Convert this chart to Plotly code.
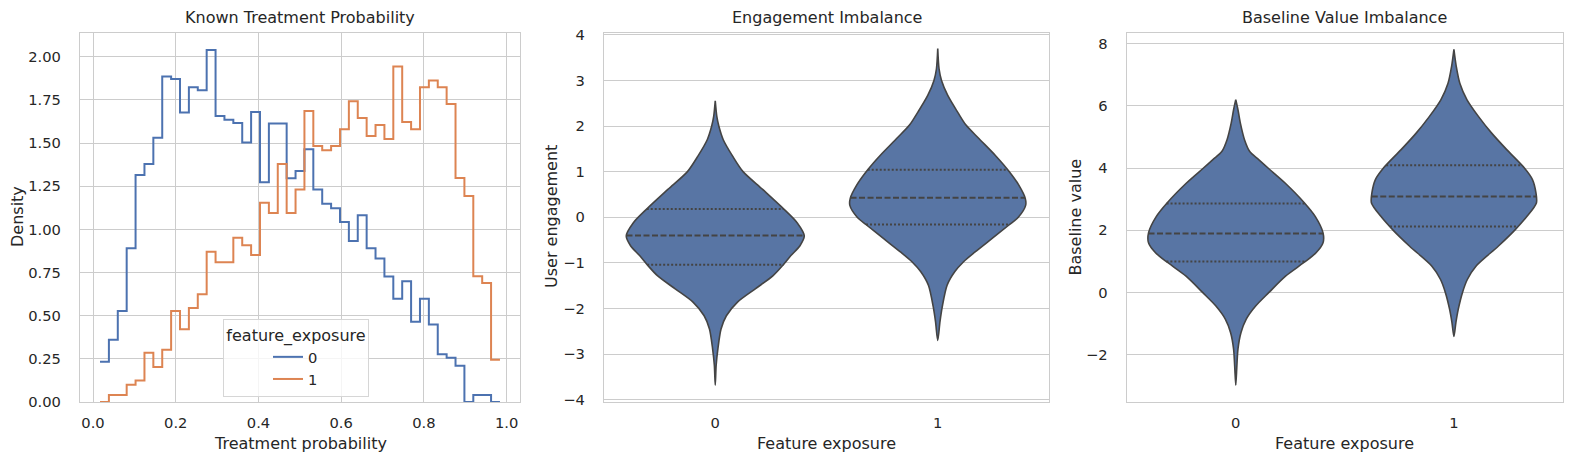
import numpy as np
import plotly.graph_objects as go

# ---- panel 1: step histogram of treatment probability (density) ----
bin_start = 0.0169
bin_width = 0.02149
density_0 = [0.233, 0.361, 0.528, 0.891, 1.315, 1.379, 1.531, 1.886, 1.871, 1.678,
             1.824, 1.807, 2.039, 1.657, 1.635, 1.616, 1.504, 1.680, 1.273, 1.614,
             1.614, 1.296, 1.338, 1.464, 1.232, 1.149, 1.122, 1.043, 0.933, 1.082,
             0.891, 0.831, 0.727, 0.598, 0.700, 0.465, 0.598, 0.449, 0.276, 0.257,
             0.210, 0.0, 0.040, 0.040, 0.0]
density_1 = [0.0, 0.040, 0.040, 0.100, 0.125, 0.285, 0.203, 0.303, 0.528, 0.422,
             0.544, 0.625, 0.870, 0.810, 0.810, 0.951, 0.908, 0.852, 1.155, 1.095,
             1.379, 1.095, 1.232, 1.686, 1.483, 1.458, 1.483, 1.581, 1.743, 1.645,
             1.541, 1.605, 1.524, 1.944, 1.622, 1.581, 1.824, 1.863, 1.824, 1.726,
             1.298, 1.194, 0.729, 0.689, 0.245]
hist_groups = ["0", "1"]

# ---- panels 2 & 3: violin outlines (value, half width) ----
eng0_val = [2.55, 2.21, 2.00, 1.70, 1.34, 1.00, 0.61, 0.19, -0.12, -0.41, -0.63, -0.84,
            -1.04, -1.28, -1.57, -1.86, -2.16, -2.45, -2.88, -3.25, -3.68]
eng0_hw = [0.0, 0.007, 0.016, 0.036, 0.078, 0.125, 0.213, 0.306, 0.368, 0.400, 0.380, 0.340,
           0.306, 0.260, 0.180, 0.100, 0.050, 0.026, 0.012, 0.004, 0.0]
eng1_val = [3.70, 3.25, 3.00, 2.67, 2.30, 2.02, 1.72, 1.35, 1.01, 0.70, 0.42, 0.26, 0.00,
            -0.17, -0.47, -0.76, -0.98, -1.19, -1.49, -1.97, -2.29, -2.70]
eng1_hw = [0.0, 0.006, 0.017, 0.045, 0.090, 0.127, 0.186, 0.260, 0.320, 0.365, 0.393, 0.395,
           0.362, 0.320, 0.243, 0.168, 0.115, 0.077, 0.042, 0.020, 0.010, 0.0]
base0_val = [6.19, 5.87, 5.44, 4.91, 4.53, 4.27, 4.00, 3.52, 2.88, 2.45, 1.92, 1.60, 1.28,
             0.96, 0.53, 0.00, -0.43, -0.85, -1.28, -1.81, -2.35, -2.97]
base0_hw = [0.0, 0.010, 0.021, 0.040, 0.064, 0.105, 0.148, 0.226, 0.315, 0.364, 0.400, 0.400,
            0.368, 0.311, 0.228, 0.151, 0.091, 0.048, 0.024, 0.010, 0.005, 0.0]
base1_val = [7.81, 7.25, 6.72, 6.19, 5.65, 5.12, 4.59, 4.00, 3.63, 3.20, 2.88, 2.45, 2.00,
             1.49, 0.85, 0.43, 0.00, -0.53, -0.96, -1.41]
base1_hw = [0.0, 0.011, 0.027, 0.060, 0.113, 0.173, 0.242, 0.323, 0.360, 0.376, 0.378, 0.335,
            0.278, 0.203, 0.101, 0.062, 0.039, 0.020, 0.009, 0.0]

# quartiles (q1, median, q3)
eng0_quart = [-1.04, -0.40, 0.18]
eng1_quart = [-0.16, 0.43, 1.04]
base0_quart = [1.00, 1.90, 2.86]
base1_quart = [2.12, 3.09, 4.09]

exposure_labels = ["0", "1"]

# window is 1583x464; the page body keeps an 8px margin all round,
# so the figure is sized to fit inside it without overflowing
WIN_W, WIN_H = 1583, 464
OFF = 8
W, H = WIN_W - 2 * OFF, WIN_H - 2 * OFF
TXT = "#262626"
GRID = "#cccccc"
FONT = "DejaVu Sans"
hist_colors = ["#4c72b0", "#dd8452"]
violin_fill = "#5875a4"
violin_line = "#444444"

fig = go.Figure()

# histogram steps
edges = bin_start + bin_width * np.arange(len(density_0) + 1)
for grp, dens, col in zip(hist_groups, [density_0, density_1], hist_colors):
    fig.add_trace(go.Scatter(
        x=edges, y=list(dens) + [dens[-1]], mode="lines", name=grp,
        line=dict(color=col, width=2, shape="hv"),
        xaxis="x", yaxis="y", showlegend=True))


def add_violin(pos, vals, hws, quart, xa, ya):
    vals = np.array(vals)
    hws = np.array(hws)
    # right side bottom->top, then left side top->bottom
    xs = np.concatenate([pos + hws[::-1], pos - hws])
    ys = np.concatenate([vals[::-1], vals])
    fig.add_trace(go.Scatter(
        x=xs, y=ys, mode="lines", fill="toself", fillcolor=violin_fill,
        line=dict(color=violin_line, width=1.6, shape="spline", smoothing=0.8),
        xaxis=xa, yaxis=ya, showlegend=False, hoverinfo="skip"))
    for i, q in enumerate(quart):
        w = np.interp(q, vals[::-1], hws[::-1])
        fig.add_trace(go.Scatter(
            x=[pos - w, pos + w], y=[q, q], mode="lines",
            line=dict(color=violin_line, width=2,
                      dash="6px,2.5px" if i == 1 else "2px,2px"),
            xaxis=xa, yaxis=ya, showlegend=False, hoverinfo="skip"))


add_violin(0, eng0_val, eng0_hw, eng0_quart, "x2", "y2")
add_violin(1, eng1_val, eng1_hw, eng1_quart, "x2", "y2")
add_violin(0, base0_val, base0_hw, base0_quart, "x3", "y3")
add_violin(1, base1_val, base1_hw, base1_quart, "x3", "y3")


# window pixel -> paper fraction
def px_x(p):
    return (p - OFF) / W


def px_y(p):
    return (H - (p - OFF)) / H


ydom = [px_y(402), px_y(32.5)]
panels = [(80, 520), (604, 1049), (1126.7, 1563)]

axis_common = dict(
    showline=True, mirror=True, linecolor=GRID, linewidth=1.25,
    showgrid=True, gridcolor=GRID, gridwidth=1, zeroline=False,
    ticks="", automargin=False,
    tickfont=dict(family=FONT, size=14.7, color=TXT),
)
xax = dict(axis_common, ticklabelstandoff=7)
yax = dict(axis_common, ticklabelstandoff=15)

layout = dict(
    width=W, height=H,
    margin=dict(l=0, r=0, t=0, b=0, autoexpand=False),
    paper_bgcolor="white", plot_bgcolor="white",
    font=dict(family=FONT, color=TXT),
    xaxis=dict(domain=[px_x(panels[0][0]), px_x(panels[0][1])], range=[-0.0315, 1.0324],
               tickvals=[0.0, 0.2, 0.4, 0.6, 0.8, 1.0], ticktext=["0.0", "0.2", "0.4", "0.6", "0.8", "1.0"],
               anchor="y", **xax),
    yaxis=dict(domain=ydom, range=[0, 2.141],
               tickvals=[0, 0.25, 0.5, 0.75, 1.0, 1.25, 1.5, 1.75, 2.0],
               ticktext=["0.00", "0.25", "0.50", "0.75", "1.00", "1.25", "1.50", "1.75", "2.00"],
               anchor="x", **yax),
    xaxis2=dict(domain=[px_x(panels[1][0]), px_x(panels[1][1])], range=[-0.5, 1.5],
                tickvals=[0, 1], ticktext=exposure_labels, anchor="y2",
                **{**xax, "showgrid": False}),
    yaxis2=dict(domain=ydom, range=[-4.05, 4.05], tickvals=list(range(-4, 5)),
                anchor="x2", **yax),
    xaxis3=dict(domain=[px_x(panels[2][0]), px_x(panels[2][1])], range=[-0.5, 1.5],
                tickvals=[0, 1], ticktext=exposure_labels, anchor="y3",
                **{**xax, "showgrid": False}),
    yaxis3=dict(domain=ydom, range=[-3.51, 8.35], tickvals=[-2, 0, 2, 4, 6, 8],
                anchor="x3", **yax),
    legend=dict(
        x=px_x(223), y=px_y(319), xanchor="left", yanchor="top",
        bgcolor="rgba(255,255,255,0.8)", bordercolor="#d6d6d6", borderwidth=1,
        indentation=44,
        font=dict(family=FONT, size=14.7, color=TXT),
        title=dict(text="feature_exposure", side="top center",
                   font=dict(family=FONT, size=16, color=TXT)),
    ),
)
fig.update_layout(**layout)

titles = ["Known Treatment Probability", "Engagement Imbalance", "Baseline Value Imbalance"]
xlabels = ["Treatment probability", "Feature exposure", "Feature exposure"]
ylabels = ["Density", "User engagement", "Baseline value"]
ylabel_x = [18, 552, 1075.5]
for (x0, x1), t, xl, yl, yx in zip(panels, titles, xlabels, ylabels, ylabel_x):
    cx = px_x((x0 + x1) / 2)
    fig.add_annotation(text=t, x=cx, y=px_y(17.7), xref="paper", yref="paper",
                       showarrow=False, xanchor="center", yanchor="middle",
                       font=dict(family=FONT, size=16, color=TXT))
    fig.add_annotation(text=xl, x=cx, y=px_y(443), xref="paper", yref="paper",
                       showarrow=False, xanchor="center", yanchor="middle",
                       font=dict(family=FONT, size=16, color=TXT))
    fig.add_annotation(text=yl, x=px_x(yx), y=px_y(217), xref="paper", yref="paper",
                       showarrow=False, xanchor="center", yanchor="middle", textangle=-90,
                       font=dict(family=FONT, size=16, color=TXT))

fig.write_html("out.html")
